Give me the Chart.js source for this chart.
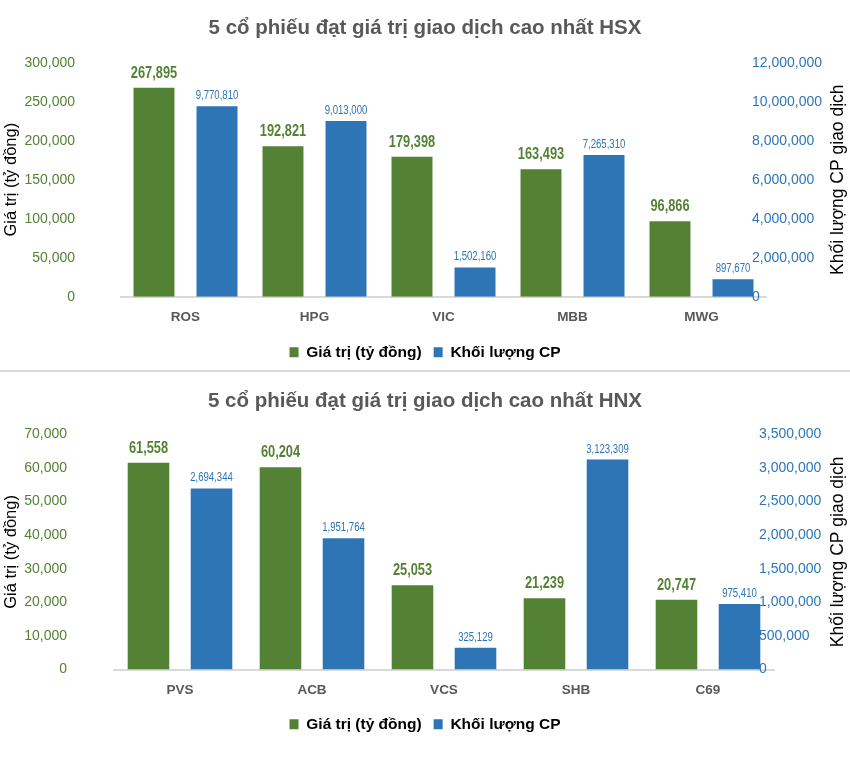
<!DOCTYPE html>
<html>
<head>
<meta charset="utf-8">
<script src="https://cdn.jsdelivr.net/npm/chart.js@4.4.1/dist/chart.umd.min.js"></script>
<style>
  body { margin: 0; background: #fff; }
  canvas { display: block; }
  .sep { width: 850px; height: 2px; background: #d9d9d9; margin-bottom: 1px; }
</style>
</head>
<body>
<canvas id="hsx" width="850" height="370"></canvas>
<div class="sep"></div>
<canvas id="hnx" width="850" height="398"></canvas>
<script>
// HSX
const hsxLabels = ['ROS', 'HPG', 'VIC', 'MBB', 'MWG'];
const hsxValue = [267895, 192821, 179398, 163493, 96866];
const hsxVolume = [9770810, 9013000, 1502160, 7265310, 897670];

// HNX
const hnxLabels = ['PVS', 'ACB', 'VCS', 'SHB', 'C69'];
const hnxValue = [61558, 60204, 25053, 21239, 20747];
const hnxVolume = [2694344, 1951764, 325129, 3123309, 975410];

const GREEN = '#548235';
const BLUE = '#2e75b6';
const SANS = "'Liberation Sans', Arial, sans-serif";

function fmt(v) {
    return Number(v).toLocaleString('en-US');
}

// nhãn số trên cột (chữ hẹp: co ngang)
const valueLabels = {
    id: 'valueLabels',
    afterDatasetsDraw(chart) {
        const ctx = chart.ctx;
        chart.data.datasets.forEach((ds, i) => {
            const meta = chart.getDatasetMeta(i);
            meta.data.forEach((bar, j) => {
                ctx.save();
                ctx.textAlign = 'center';
                ctx.textBaseline = 'alphabetic';
                if (i === 0) {
                    ctx.font = 'bold 16px ' + SANS;
                    ctx.fillStyle = GREEN;
                } else {
                    ctx.font = '12px ' + SANS;
                    ctx.fillStyle = BLUE;
                }
                ctx.translate(bar.x, bar.y - (i === 0 ? 10 : 7));
                ctx.scale(0.8, 1);
                ctx.fillText(fmt(ds.data[j]), 0, 0);
                ctx.restore();
            });
        });
    }
};

function makeChart(id, c) {
    // tiêu đề trục phải, đọc từ dưới lên như trục trái
    const rightTitle = {
        id: 'rightTitle',
        afterLayout(chart) {
            // nhãn trục phải lấn vào vùng vẽ một chút như bản gốc
            chart.scales.y1.left -= c.rightShift;
        },
        afterDraw(chart) {
            const ctx = chart.ctx;
            const area = chart.chartArea;
            ctx.save();
            ctx.translate(chart.width - 12, (area.top + area.bottom) / 2);
            ctx.rotate(-Math.PI / 2);
            ctx.font = '17.5px ' + SANS;
            ctx.fillStyle = '#000';
            ctx.textAlign = 'center';
            ctx.textBaseline = 'middle';
            ctx.fillText('Khối lượng CP giao dịch', 0, 0);
            ctx.restore();
        }
    };

    return new Chart(document.getElementById(id), {
        type: 'bar',
        data: {
            labels: c.labels,
            datasets: [{
                label: 'Giá trị (tỷ đồng)',
                data: c.values,
                yAxisID: 'y',
                backgroundColor: GREEN,
                categoryPercentage: c.catPct,
                barPercentage: c.barPct
            }, {
                label: 'Khối lượng CP',
                data: c.volumes,
                yAxisID: 'y1',
                backgroundColor: BLUE,
                categoryPercentage: c.catPct,
                barPercentage: c.barPct
            }]
        },
        options: {
            responsive: false,
            animation: false,
            layout: { padding: { bottom: c.bottomPad } },
            plugins: {
                title: {
                    display: true,
                    text: c.title,
                    color: '#595959',
                    font: { family: SANS, size: 20.5, weight: 'bold' },
                    padding: c.titlePad
                },
                legend: {
                    position: 'bottom',
                    labels: {
                        color: '#000',
                        font: { family: SANS, size: 15.5, weight: 'bold' },
                        boxWidth: 9,
                        boxHeight: 10,
                        padding: 12
                    }
                },
                tooltip: { enabled: false }
            },
            scales: {
                x: {
                    grid: { display: false, drawTicks: false },
                    border: { display: true, color: '#d9d9d9', width: 2 },
                    ticks: {
                        color: '#595959',
                        font: { family: SANS, size: 13.5, weight: 'bold' },
                        padding: 12.5
                    },
                    afterFit(s) { s.height = c.xHeight; }
                },
                y: {
                    position: 'left',
                    min: 0,
                    max: c.yMax,
                    grid: { display: false, drawTicks: false },
                    border: { display: false },
                    ticks: {
                        stepSize: c.yStep,
                        color: GREEN,
                        font: { family: SANS, size: 14 },
                        padding: c.leftPad,
                        callback: v => fmt(v)
                    },
                    title: {
                        display: true,
                        text: 'Giá trị (tỷ đồng)',
                        color: '#000',
                        font: { family: SANS, size: 16.5 },
                        padding: { top: 2, bottom: 0 }
                    },
                    afterFit(s) { s.width = c.leftW; }
                },
                y1: {
                    position: 'right',
                    min: 0,
                    max: c.y1Max,
                    grid: { display: false, drawTicks: false },
                    border: { display: false },
                    ticks: {
                        stepSize: c.y1Step,
                        color: BLUE,
                        font: { family: SANS, size: 14 },
                        padding: 0,
                        callback: v => fmt(v)
                    },
                    afterFit(s) { s.width = c.rightW; }
                }
            }
        },
        plugins: [valueLabels, rightTitle]
    });
}

makeChart('hsx', {
    title: '5 cổ phiếu đạt giá trị giao dịch cao nhất HSX',
    labels: hsxLabels, values: hsxValue, volumes: hsxVolume,
    yMax: 300000, yStep: 50000, y1Max: 12000000, y1Step: 2000000,
    leftW: 121, rightW: 84, leftPad: 46, rightShift: 14,
    titlePad: { top: 15.7, bottom: 22.4 },
    xHeight: 35.8, bottomPad: 0,
    catPct: 0.977, barPct: 0.65
});

makeChart('hnx', {
    title: '5 cổ phiếu đạt giá trị giao dịch cao nhất HNX',
    labels: hnxLabels, values: hnxValue, volumes: hnxVolume,
    yMax: 70000, yStep: 10000, y1Max: 3500000, y1Step: 500000,
    leftW: 114, rightW: 76, leftPad: 47, rightShift: 15,
    titlePad: { top: 16.4, bottom: 20.3 },
    xHeight: 35, bottomPad: 29,
    catPct: 0.955, barPct: 0.66
});
</script>
</body>
</html>
